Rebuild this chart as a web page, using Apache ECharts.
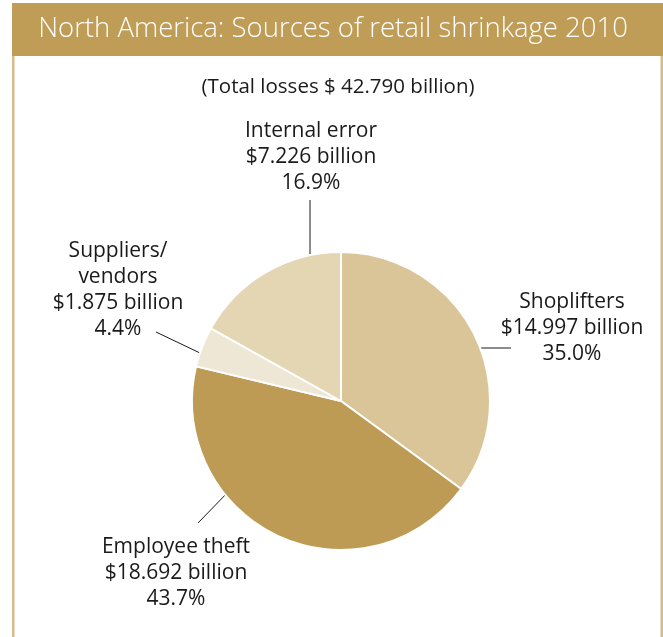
<!DOCTYPE html>
<html>
<head>
<meta charset="utf-8">
<script src="https://cdn.jsdelivr.net/npm/echarts@6/dist/echarts.min.js"></script>
<style>
  html, body { margin: 0; padding: 0; background: #ffffff; }
  #chart { width: 663px; height: 637px; }
</style>
</head>
<body>
<div id="chart"></div>
<script>
// Retail shrinkage sources, North America 2010 (billions of dollars)
const categories = ['Shoplifters', 'Employee theft', 'Suppliers/\nvendors', 'Internal error'];
const lossBillions = [14.997, 18.692, 1.875, 7.226];
const shareLabels = ['35.0%', '43.7%', '4.4%', '16.9%'];
const totalLabel = '(Total losses $ 42.790 billion)';
const titleText = 'North America: Sources of retail shrinkage 2010';

const sliceColors = ['#d9c597', '#bd9b55', '#efe7d5', '#e4d5b3'];

// Where each label block sits and how its leader line runs
const labelSpots = [
  { x: 572, y: 328, line: [[479, 348], [511, 348]] },
  { x: 176, y: 573, line: [[230, 490], [198, 523]] },
  { x: 118, y: 290, line: [[200, 353], [156, 332]] },
  { x: 311, y: 157, line: [[310, 254], [310, 200]] }
];

const FONT = '"Open Sans", Lato, sans-serif';

const chart = echarts.init(document.getElementById('chart'), null, { renderer: 'canvas' });

const pieData = categories.map((name, i) => ({
  name: name,
  value: lossBillions[i],
  itemStyle: { color: sliceColors[i] },
  label: {
    formatter: name + '\n$' + lossBillions[i].toFixed(3) + ' billion\n' + shareLabels[i]
  }
}));

chart.setOption({
  backgroundColor: '#ffffff',
  animation: false,
  graphic: [
    // header band
    { type: 'rect', shape: { x: 12, y: 3, width: 651, height: 53 }, style: { fill: '#bf9d56' } },
    // side rules of the frame
    { type: 'rect', shape: { x: 12, y: 56, width: 2.5, height: 581 }, style: { fill: '#d6bc89' } },
    { type: 'rect', shape: { x: 660.5, y: 56, width: 2.5, height: 581 }, style: { fill: '#d6bc89' } },
    {
      type: 'text', x: 333, y: 29,
      style: { text: titleText, fill: '#ffffff', font: '300 27.5px ' + FONT, align: 'center', verticalAlign: 'middle' }
    },
    {
      type: 'text', x: 338, y: 87,
      style: { text: totalLabel, fill: '#1a1a1a', font: '20.5px ' + FONT, align: 'center', verticalAlign: 'middle' }
    }
  ],
  series: [{
    type: 'pie',
    center: [341, 401],
    radius: 149,
    startAngle: 90,
    clockwise: true,
    data: pieData,
    itemStyle: { borderColor: '#ffffff', borderWidth: 2 },
    label: {
      show: true,
      position: 'outside',
      overflow: 'none',
      color: '#1a1a1a',
      fontFamily: FONT,
      fontSize: 21,
      lineHeight: 26,
      align: 'center'
    },
    labelLine: {
      show: true,
      lineStyle: { color: '#1a1a1a', width: 1 }
    },
    labelLayout: function (params) {
      const spot = labelSpots[params.dataIndex];
      return {
        x: spot.x,
        y: spot.y,
        align: 'center',
        verticalAlign: 'middle',
        labelLinePoints: [spot.line[0], spot.line[1], spot.line[1]]
      };
    },
    emphasis: { disabled: true }
  }]
});
</script>
</body>
</html>
